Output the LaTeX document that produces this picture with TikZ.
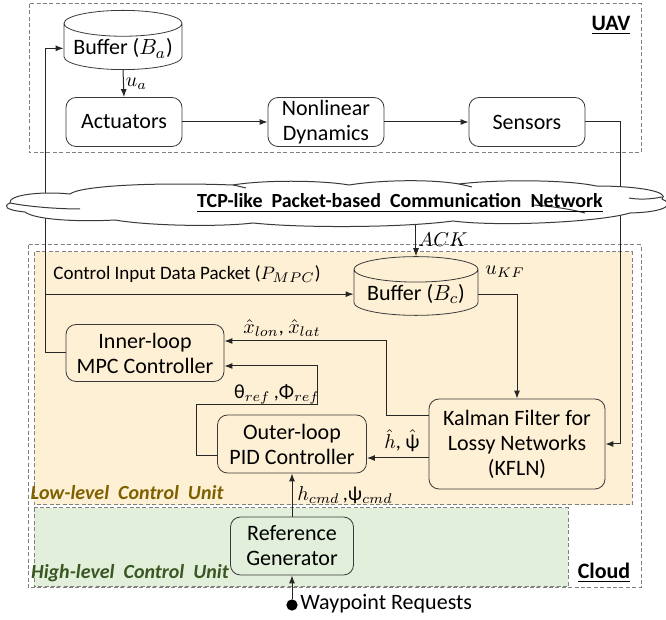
\documentclass[tikz,border=0pt]{standalone}
\usepackage{fontspec}
\setmainfont{Carlito}
\usetikzlibrary{arrows.meta,shapes.geometric}

\definecolor{lowfill}{HTML}{FEF0D4}
\definecolor{highfill}{HTML}{E2EFDA}
\definecolor{lowtext}{HTML}{7F6000}
\definecolor{hightext}{HTML}{385723}
\definecolor{edge}{HTML}{3A3A3A}

\tikzset{
  blockbox/.style={draw=edge,rounded corners=5pt,align=center,font=\fontsize{11}{12.5}\selectfont,inner sep=1pt},
  bufbox/.style={draw=edge,cylinder,shape border rotate=90,aspect=0.25,anchor=shape center,font=\fontsize{11}{12.5}\selectfont,inner sep=1pt},
  unitbox/.style={draw=gray,dash pattern=on 2pt off 1.2pt,line width=0.5pt},
  lbl/.style={font=\fontsize{10}{11}\selectfont,inner sep=1pt},
  wire/.style={draw=black!85,line width=0.5pt,-{Latex[length=4pt,width=3pt]}},
  cloudline/.style={draw=edge,line width=0.5pt},
}

\begin{document}
\begin{tikzpicture}[x=0.5pt,y=-0.5pt]
  \useasboundingbox (0,0) rectangle (666,620);

  % dashed units
  \draw[unitbox] (29,4) rectangle (641,153);
  \draw[unitbox] (28,245) rectangle (641,588);
  \draw[unitbox,fill=lowfill] (34,252) rectangle (632,505);
  \draw[unitbox,fill=highfill] (34,508) rectangle (568,587);

  \node[font=\fontsize{11}{12}\selectfont\bfseries] (uavtag) at (611,25) {\underline{UAV}};
  \node[font=\fontsize{11}{12}\selectfont\bfseries] (cloudtag) at (604,573) {\underline{Cloud}};
  \node[font=\fontsize{10}{11}\selectfont\bfseries\itshape,text=lowtext] (lowtag) at (127,493) {Low-level\ \ Control\ \ Unit};
  \node[font=\fontsize{10}{11}\selectfont\bfseries\itshape,text=hightext] (hightag) at (130,573) {High-level\ \ Control\ \ Unit};

  % UAV side
  \node[bufbox,minimum width=59pt,minimum height=21.5pt] (Ba) at (123,40) {Buffer ($B_a$)};
  \node[blockbox,minimum width=58pt,minimum height=24.5pt] (Act) at (124,122) {Actuators};
  \node[blockbox,minimum width=58pt,minimum height=24.5pt] (NLD) at (326,122) {Nonlinear\\Dynamics};
  \node[blockbox,minimum width=58pt,minimum height=24.5pt] (Sen) at (527,122) {Sensors};

  % cloud side
  \node[bufbox,minimum width=62pt,minimum height=23.5pt] (Bc) at (416,286) {Buffer ($B_c$)};
  \node[blockbox,minimum width=79pt,minimum height=28.5pt] (MPC) at (145,353) {Inner-loop\\MPC Controller};
  \node[blockbox,minimum width=74.5pt,minimum height=29pt] (PID) at (292,444) {Outer-loop\\PID Controller};
  \node[blockbox,minimum width=88pt,minimum height=45pt] (KFLN) at (517,444) {Kalman Filter for\\Lossy Networks\\(KFLN)};
  \node[blockbox,minimum width=61.5pt,minimum height=29pt] (Ref) at (292,546) {Reference\\Generator};

  \node[circle,fill=black,inner sep=2pt] (wp) at (292,605) {};
  \node[lbl,anchor=west,font=\fontsize{11}{12}\selectfont] (wptext) at (298,604) {Waypoint Requests};

  \coordinate (lf) at (45,0);
  \coordinate (rt) at (620,122);
  \coordinate (ack) at (416,212);

  % connectors
  \draw[wire] (Ba.south) -- node[lbl,right] {$u_a$} (Act.north);
  \draw[wire] (Act.east) -- (NLD.west);
  \draw[wire] (NLD.east) -- (Sen.west);
  \draw[wire] (Sen.east) -- (rt) |- (KFLN.east);
  \draw[wire] (MPC.west) -| (lf |- Ba.west) -- (Ba.west);
  \draw[wire] (lf |- Bc.west) -- (Bc.west);
  \draw[wire] (Bc.north |- ack) -- (Bc.north);
  \draw[wire] (Bc.east) -| (KFLN.north);
  \draw[wire] ([yshift=14pt]KFLN.west) -- ++(-21pt,0) |- ([yshift=6pt]MPC.east);
  \draw[wire] ([yshift=-6pt]PID.west) -- ++(-10.5pt,0) -- ++(0,25.5pt) -- ++(60.5pt,0) |- ([yshift=-6.5pt]MPC.east);
  \draw[wire] ([yshift=-7pt]KFLN.west) -- ([yshift=-7pt]PID.east);
  \draw[wire] (Ref.north) -- (PID.south);
  \draw[wire] (wp) -- (Ref.south);

  % network cloud, filled so it hides the wires behind it
  \path[cloudline,fill=white]
    (10,203) .. controls (8,195) and (40,191) .. (70,194)
    .. controls (80,186) and (150,182) .. (233,185)
    .. controls (262,180) and (320,180) .. (349,185)
    .. controls (380,180) and (430,179) .. (459,184)
    .. controls (500,179) and (570,180) .. (596,186)
    .. controls (640,186) and (670,192) .. (662,199)
    .. controls (674,204) and (668,212) .. (630,213)
    .. controls (600,222) and (500,227) .. (453,221)
    .. controls (400,228) and (300,228) .. (253,223)
    .. controls (220,227) and (150,226) .. (115,220)
    .. controls (80,222) and (35,220) .. (25,212)
    .. controls (5,210) and (3,206) .. (10,203) -- cycle;
  \draw[cloudline] (10,203) .. controls (30,207) and (60,209) .. (80,209);
  \draw[cloudline] (662,197) .. controls (652,199) and (640,200) .. (629,198);
  \draw[cloudline] (585,213) .. controls (570,209) and (550,206) .. (533,205);
  \draw[cloudline] (233,185) .. controls (238,186) and (242,187) .. (246,188);
  \draw[cloudline] (459,184) .. controls (464,185) and (468,186) .. (472,187);
  \node[font=\fontsize{10}{11}\selectfont\bfseries] (nettext) at (400,203)
    {\underline{TCP-like\ \ Packet-based\ \ Communication\ \ Network}};

  % labels on the wires
  \node[lbl,anchor=west,font=\fontsize{9.5}{11}\selectfont] (pmpc) at (51,274) {Control Input Data Packet ($P_{MPC}$)};
  \node[lbl] (ukf) at (505,272) {$u_{KF}$};
  \node[lbl,anchor=west] (acklbl) at (416,240) {$ACK$};
  \node[lbl] (xhat) at (282,328) {$\hat{x}_{lon}$, $\hat{x}_{lat}$};
  \node[lbl] (tref) at (277,394) {θ$_{ref}$\,,Φ$_{ref}$};
  \node[lbl,anchor=south] (hpsi) at (402,454) {$\hat{h}$, $\hat{\mbox{ψ}}$};
  \node[lbl,anchor=west] (hcmd) at (295,495) {$h_{cmd}$\,,ψ$_{cmd}$};
\end{tikzpicture}
\end{document}
